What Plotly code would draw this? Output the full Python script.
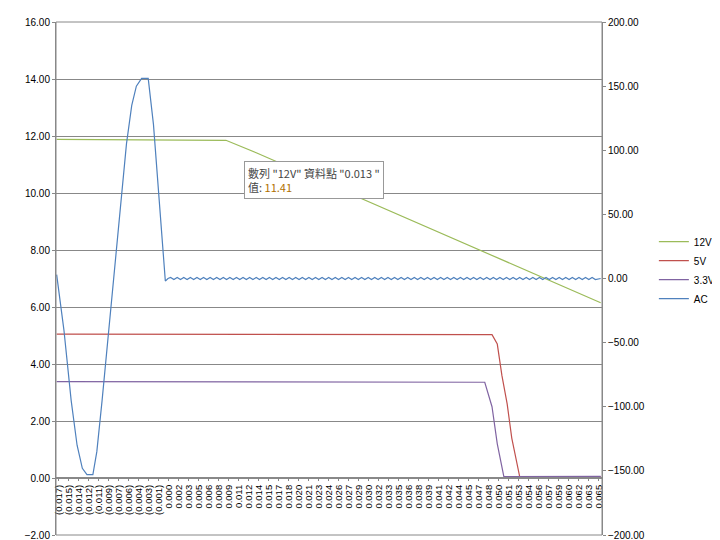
import plotly.graph_objects as go

# time values (s) and readings
tick_labels = ["(0.017)", "(0.015)", "(0.014)", "(0.012)", "(0.011)", "(0.009)", "(0.007)",
               "(0.006)", "(0.004)", "(0.003)", "(0.001)", "0.000", "0.002", "0.003", "0.005",
               "0.006", "0.008", "0.009", "0.011", "0.012", "0.014", "0.015", "0.017", "0.018",
               "0.020", "0.021", "0.023", "0.024", "0.026", "0.027", "0.029", "0.030", "0.032",
               "0.033", "0.035", "0.036", "0.038", "0.039", "0.041", "0.042", "0.044", "0.045",
               "0.047", "0.048", "0.050", "0.051", "0.053", "0.054", "0.056", "0.057", "0.059",
               "0.060", "0.062", "0.063", "0.065"]
t_first, t_last = -0.017, 0.065
step = (t_last - t_first) / (len(tick_labels) - 1)
tick_vals = [t_first + i * step for i in range(len(tick_labels))]

t_12v = [-0.0173, 0.0000, 0.0084, 0.0130, 0.0653]
v_12v = [11.88, 11.87, 11.85, 11.41, 6.15]

t_5v = [-0.0173, 0.0200, 0.0488, 0.0496, 0.0503, 0.0511, 0.0518, 0.0530, 0.0540, 0.0653]
v_5v = [5.05, 5.05, 5.03, 4.7, 3.6, 2.6, 1.4, 0.05, 0.02, 0.05]

t_33v = [-0.0173, 0.0200, 0.0477, 0.0488, 0.0496, 0.0506, 0.0530, 0.0653]
v_33v = [3.38, 3.38, 3.36, 2.5, 1.2, 0.05, 0.05, 0.06]

t_ac = [-0.0173, -0.0162, -0.0151, -0.0142, -0.0134, -0.0127, -0.0118, -0.0112, -0.0104,
        -0.0094, -0.0085, -0.0076, -0.0067, -0.0059, -0.0052, -0.0044, -0.0034, -0.0026,
        -0.0019, -0.0013, -0.0010, -0.0008, -0.0004]
v_ac = [3, -40, -95, -130, -148, -153, -153, -135, -95, -40, 10, 60, 105, 135, 150, 156,
        156, 120, 70, 30, 5, -2, 0]
t_ripple = [0.0000, 0.0005, 0.0010, 0.0015, 0.0020, 0.0025, 0.0030, 0.0035, 0.0040, 0.0045,
            0.0050, 0.0055, 0.0060, 0.0065, 0.0070, 0.0075, 0.0080, 0.0085, 0.0090, 0.0095,
            0.0100, 0.0105, 0.0110, 0.0115, 0.0120, 0.0125, 0.0130, 0.0135, 0.0140, 0.0145,
            0.0150, 0.0155, 0.0160, 0.0165, 0.0170, 0.0175, 0.0180, 0.0185, 0.0190, 0.0195,
            0.0200, 0.0205, 0.0210, 0.0215, 0.0220, 0.0225, 0.0230, 0.0235, 0.0240, 0.0245,
            0.0250, 0.0255, 0.0260, 0.0265, 0.0270, 0.0275, 0.0280, 0.0285, 0.0290, 0.0295,
            0.0300, 0.0305, 0.0310, 0.0315, 0.0320, 0.0325, 0.0330, 0.0335, 0.0340, 0.0345,
            0.0350, 0.0355, 0.0360, 0.0365, 0.0370, 0.0375, 0.0380, 0.0385, 0.0390, 0.0395,
            0.0400, 0.0405, 0.0410, 0.0415, 0.0420, 0.0425, 0.0430, 0.0435, 0.0440, 0.0445,
            0.0450, 0.0455, 0.0460, 0.0465, 0.0470, 0.0475, 0.0480, 0.0485, 0.0490, 0.0495,
            0.0500, 0.0505, 0.0510, 0.0515, 0.0520, 0.0525, 0.0530, 0.0535, 0.0540, 0.0545,
            0.0550, 0.0555, 0.0560, 0.0565, 0.0570, 0.0575, 0.0580, 0.0585, 0.0590, 0.0595,
            0.0600, 0.0605, 0.0610, 0.0615, 0.0620, 0.0625, 0.0630, 0.0635, 0.0640, 0.0645,
            0.0653]
v_ripple = [0.8, -0.8, 0.8, -0.8, 0.8, -0.8, 0.8, -0.8, 0.8, -0.8,
            0.8, -0.8, 0.8, -0.8, 0.8, -0.8, 0.8, -0.8, 0.8, -0.8,
            0.8, -0.8, 0.8, -0.8, 0.8, -0.8, 0.8, -0.8, 0.8, -0.8,
            0.8, -0.8, 0.8, -0.8, 0.8, -0.8, 0.8, -0.8, 0.8, -0.8,
            0.8, -0.8, 0.8, -0.8, 0.8, -0.8, 0.8, -0.8, 0.8, -0.8,
            0.8, -0.8, 0.8, -0.8, 0.8, -0.8, 0.8, -0.8, 0.8, -0.8,
            0.8, -0.8, 0.8, -0.8, 0.8, -0.8, 0.8, -0.8, 0.8, -0.8,
            0.8, -0.8, 0.8, -0.8, 0.8, -0.8, 0.8, -0.8, 0.8, -0.8,
            0.8, -0.8, 0.8, -0.8, 0.8, -0.8, 0.8, -0.8, 0.8, -0.8,
            0.8, -0.8, 0.8, -0.8, 0.8, -0.8, 0.8, -0.8, 0.8, -0.8,
            0.8, -0.8, 0.8, -0.8, 0.8, -0.8, 0.8, -0.8, 0.8, -0.8,
            0.8, -0.8, 0.8, -0.8, 0.8, -0.8, 0.8, -0.8, 0.8, -0.8,
            0.8, -0.8, 0.8, -0.8, 0.8, -0.8, 0.8, -0.8, 0.8, -0.8,
            0.0]

fig = go.Figure()

fig.add_trace(go.Scatter(x=t_12v, y=v_12v, name="12V", mode="lines",
                         line=dict(color="#9BBB59", width=1.2)))
fig.add_trace(go.Scatter(x=t_5v, y=v_5v, name="5V", mode="lines",
                         line=dict(color="#C0504D", width=1.2)))
fig.add_trace(go.Scatter(x=t_33v, y=v_33v, name="3.3V", mode="lines",
                         line=dict(color="#8064A2", width=1.2)))
fig.add_trace(go.Scatter(x=t_ac + t_ripple, y=v_ac + v_ripple, name="AC", mode="lines",
                         yaxis="y2", line=dict(color="#4F81BD", width=1.2)))

# tooltip box seen in the screenshot
fig.add_annotation(xref="paper", yref="paper", x=0.345, y=0.73, xanchor="left", yanchor="top",
                   text="數列 \"12V\" 資料點 \"0.013 \"<br>值: <span style='color:#B07000'>11.41</span>",
                   showarrow=False, align="left",
                   font=dict(size=11, color="#444444", family="Noto Sans CJK TC"),
                   bgcolor="white", bordercolor="#999999", borderwidth=1, borderpad=3)

fig.add_shape(type="rect", xref="paper", yref="paper", x0=0, y0=0, x1=1, y1=1,
              line=dict(color="#888888", width=1))

fig.update_layout(
    width=720, height=540,
    margin=dict(l=48, r=126, t=14, b=13, autoexpand=False),
    paper_bgcolor="white", plot_bgcolor="white",
    font=dict(family="Liberation Sans", size=10, color="black"),
    showlegend=True,
    legend=dict(x=1.095, y=0.6, xanchor="left", yanchor="top", tracegroupgap=2,
                font=dict(size=10)),
    xaxis=dict(range=[-0.0174, 0.0655], tickvals=tick_vals, ticktext=tick_labels,
               tickangle=-90, anchor="free", position=0.113, showgrid=False,
               showline=True, linecolor="#888888", ticks="outside", ticklen=3,
               tickcolor="#888888", zeroline=False, tickfont=dict(size=9.5),
               automargin=False),
    yaxis=dict(range=[-2, 16], dtick=2, tickformat=".2f", showgrid=True,
               gridcolor="#888888", zeroline=False, showline=True, linecolor="#888888",
               ticks="outside", ticklen=3, tickcolor="#888888", automargin=False),
    yaxis2=dict(range=[-200, 200], dtick=50, tickformat=".2f", overlaying="y", side="right",
                showgrid=False, zeroline=False, showline=True, linecolor="#888888",
                ticks="outside", ticklen=3, tickcolor="#888888", automargin=False),
)

fig.write_html("out.html")
